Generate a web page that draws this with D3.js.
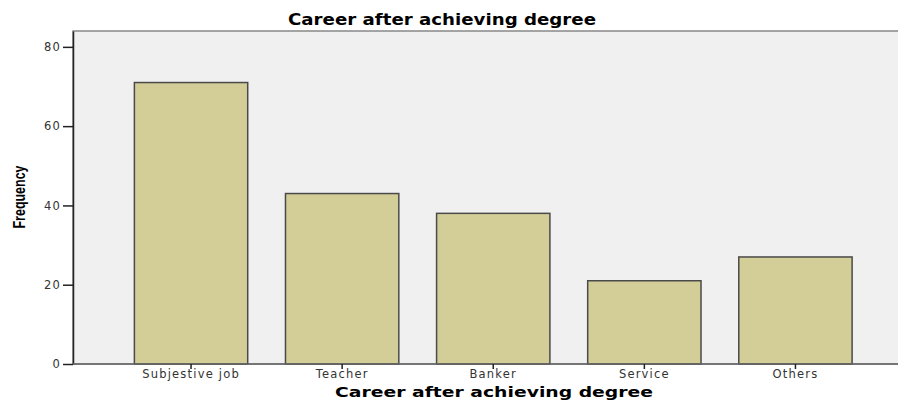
<!DOCTYPE html>
<html><head><meta charset="utf-8">
<script src="https://cdn.jsdelivr.net/npm/d3@7"></script>
<style>body{margin:0;background:#fff}svg{display:block}</style>
</head><body>
<script>
const categories = ["Subjestive job","Teacher","Banker","Service","Others"];
const frequencies = [71, 43, 38, 21, 27];
const yTicks = [0, 20, 40, 60, 80];

const W = 898, H = 400;
const plot = {left: 73, top: 31, right: 900, bottom: 364};
const svg = d3.select("body").append("svg").attr("width", W).attr("height", H);

const y = d3.scaleLinear().domain([0, 84]).range([plot.bottom, plot.top]);
const x = d3.scaleBand().domain(categories).range([115.5, 871]).paddingInner(0.25).paddingOuter(0.125);

svg.append("rect").attr("x", plot.left).attr("y", plot.top)
  .attr("width", plot.right - plot.left).attr("height", plot.bottom - plot.top)
  .attr("fill", "#f0f0f0").attr("stroke", "#888").attr("stroke-width", 1.5);

svg.selectAll("rect.bar").data(frequencies).enter().append("rect").attr("class","bar")
  .attr("x", (d,i) => x(categories[i]))
  .attr("y", d => y(d))
  .attr("width", x.bandwidth())
  .attr("height", d => y(0) - y(d))
  .attr("fill", "#d3ce98").attr("stroke", "#4a4a4a").attr("stroke-width", 1.5);

const tickFont = "DejaVu Sans, Verdana, sans-serif";
const yAxis = svg.append("g").attr("transform", `translate(${plot.left},0)`)
  .call(d3.axisLeft(y).tickValues(yTicks).tickSize(10).tickSizeOuter(0));
yAxis.select(".domain").attr("stroke", "#222").attr("stroke-width", 1.5);
yAxis.selectAll(".tick line").attr("stroke", "#222").attr("stroke-width", 1.5);
yAxis.selectAll("text").attr("font-family", tickFont).attr("font-size", 11.5).attr("letter-spacing", 1.2)
  .attr("fill", "#333").attr("x", -12);

const xAxis = svg.append("g").attr("transform", `translate(0,${plot.bottom})`)
  .call(d3.axisBottom(x).tickSize(5).tickSizeOuter(0));
xAxis.select(".domain").attr("stroke", "#666").attr("stroke-width", 1.5).attr("d", `M${plot.left},0H${plot.right}`);
xAxis.selectAll(".tick line").attr("stroke", "#222").attr("stroke-width", 1.5);
xAxis.selectAll("text").attr("font-family", tickFont).attr("font-size", 11.5).attr("letter-spacing", 1.2)
  .attr("fill", "#333").attr("y", 6);

const titleFont = "DejaVu Sans, Verdana, sans-serif";
svg.append("text").attr("x", 442).attr("y", 25).attr("text-anchor", "middle")
  .attr("font-family", titleFont).attr("font-weight", "bold").attr("font-size", 15)
  .attr("textLength", 308).attr("lengthAdjust", "spacingAndGlyphs")
  .text("Career after achieving degree");
svg.append("text").attr("x", 494).attr("y", 397).attr("text-anchor", "middle")
  .attr("font-family", titleFont).attr("font-weight", "bold").attr("font-size", 14)
  .attr("textLength", 318).attr("lengthAdjust", "spacingAndGlyphs")
  .text("Career after achieving degree");
svg.append("text").attr("transform", "translate(25,197) rotate(-90)").attr("text-anchor", "middle")
  .attr("font-family", "Liberation Sans, Arial, sans-serif").attr("font-weight", "bold").attr("font-size", 16)
  .attr("textLength", 63).attr("lengthAdjust", "spacingAndGlyphs")
  .text("Frequency");
</script>
</body></html>
